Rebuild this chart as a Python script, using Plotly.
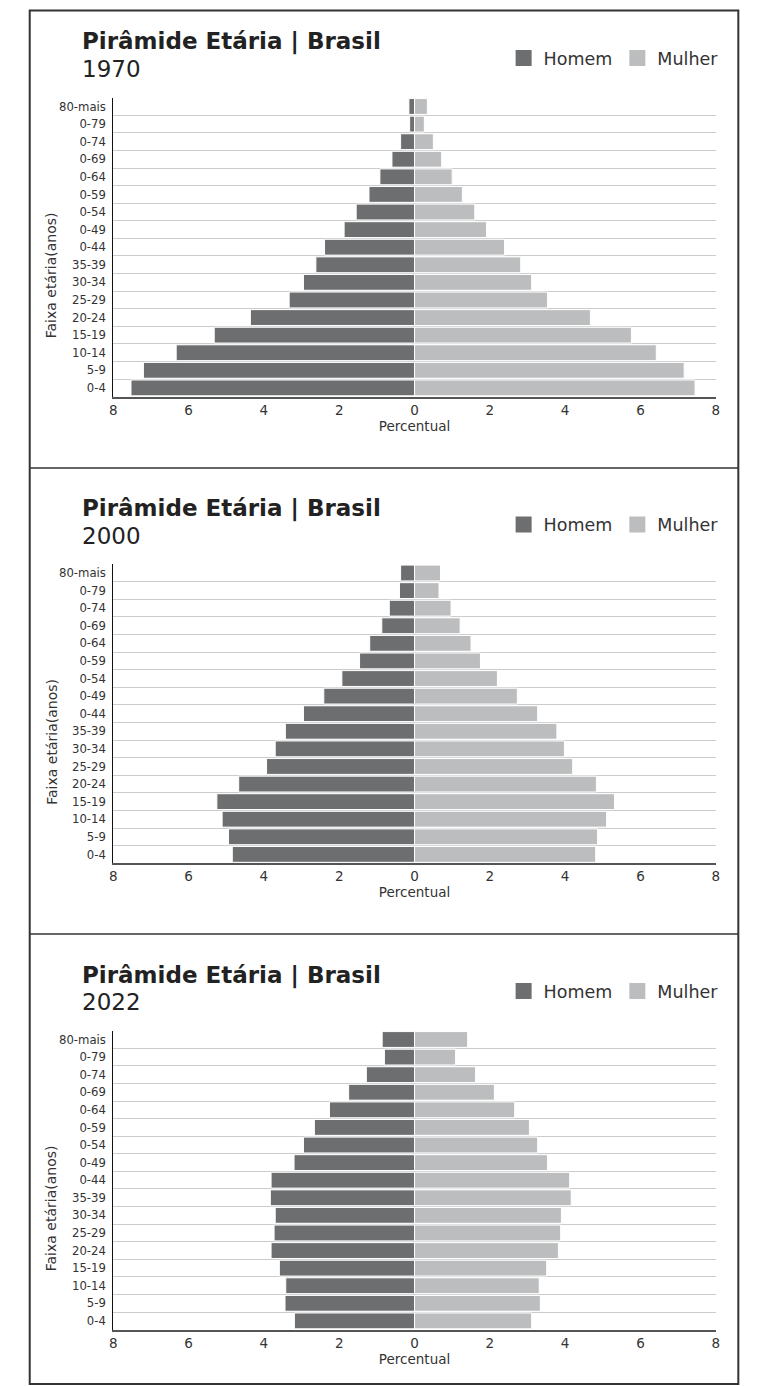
import plotly.graph_objects as go

# faixas etárias de baixo para cima (rótulos como no original)
faixas = ['0-4', '5-9', '10-14', '15-19', '20-24', '25-29', '30-34', '35-39',
          '0-44', '0-49', '0-54', '0-59', '0-64', '0-69', '0-74', '0-79', '80-mais']

anos = ['1970', '2000', '2022']

homem_1970 = [7.53, 7.20, 6.33, 5.32, 4.36, 3.33, 2.95, 2.62, 2.39, 1.87, 1.55, 1.21, 0.92, 0.60, 0.37, 0.13, 0.15]
mulher_1970 = [7.45, 7.16, 6.42, 5.76, 4.67, 3.53, 3.11, 2.82, 2.39, 1.91, 1.60, 1.27, 1.00, 0.72, 0.50, 0.26, 0.34]

homem_2000 = [4.84, 4.94, 5.11, 5.25, 4.67, 3.93, 3.70, 3.43, 2.95, 2.41, 1.93, 1.46, 1.19, 0.87, 0.67, 0.40, 0.37]
mulher_2000 = [4.81, 4.86, 5.10, 5.31, 4.83, 4.20, 3.98, 3.78, 3.27, 2.73, 2.20, 1.75, 1.50, 1.21, 0.97, 0.65, 0.69]

homem_2022 = [3.19, 3.44, 3.42, 3.59, 3.81, 3.73, 3.70, 3.83, 3.81, 3.20, 2.95, 2.66, 2.26, 1.75, 1.28, 0.80, 0.86]
mulher_2022 = [3.11, 3.34, 3.31, 3.51, 3.82, 3.88, 3.90, 4.16, 4.12, 3.53, 3.27, 3.05, 2.66, 2.12, 1.62, 1.09, 1.41]

x_ticks = [-8, -6, -4, -2, 0, 2, 4, 6, 8]

W, H = 764, 1386
COR_HOMEM = '#6d6e70'
COR_MULHER = '#bcbdbe'
FONTE = 'DejaVu Sans'


def px(x):
    # pequena correcao horizontal medida nas rodadas anteriores
    return (x - 3.8) / 0.9887 / W


def py(y):
    return 1 - y / H


dados = [(homem_1970, mulher_1970), (homem_2000, mulher_2000), (homem_2022, mulher_2022)]
passo = 466.5  # distancia vertical entre paineis, em pixels

fig = go.Figure()
shapes = []
annotations = []

for i, (ano, (hom, mul)) in enumerate(zip(anos, dados)):
    n = '' if i == 0 else str(i + 1)
    off = i * passo
    leg = 'legend' + n

    fig.add_trace(go.Bar(y=faixas, x=[-v for v in hom], orientation='h', name='Homem',
                         marker=dict(color=COR_HOMEM, line=dict(color='white', width=1)),
                         xaxis='x' + n, yaxis='y' + n, showlegend=False))
    fig.add_trace(go.Bar(y=faixas, x=mul, orientation='h', name='Mulher',
                         marker=dict(color=COR_MULHER, line=dict(color='white', width=1)),
                         xaxis='x' + n, yaxis='y' + n, showlegend=False))
    # entradas de legenda (quadrados maiores que o simbolo padrao de barra)
    for nome, cor in [('Homem', COR_HOMEM), ('Mulher', COR_MULHER)]:
        fig.add_trace(go.Scatter(x=[None], y=[None], mode='markers', name=nome,
                                 marker=dict(symbol='square', size=20, color=cor),
                                 xaxis='x' + n, yaxis='y' + n, legend=leg, hoverinfo='skip'))

    fig.update_layout(**{
        'xaxis' + n: dict(domain=[px(113), px(715)], anchor='y' + n, range=[-8, 8],
                          tickvals=x_ticks, ticktext=[str(abs(v)) for v in x_ticks],
                          showgrid=False, zeroline=False, showline=True,
                          linecolor='#555', linewidth=2, ticks='',
                          tickfont=dict(size=13.5, color='#333'),
                          title=dict(text='Percentual', font=dict(size=13.5, color='#333'), standoff=3)),
        'yaxis' + n: dict(domain=[py(396.7 + off), py(97.7 + off)], anchor='x' + n,
                          type='category', tickson='boundaries', ticks='',
                          showgrid=True, gridcolor='#cccccc', gridwidth=1,
                          showline=True, linecolor='#111', linewidth=1,
                          tickfont=dict(size=11.7, color='#333'), ticklabelstandoff=4),
        leg: dict(orientation='h', x=px(503), y=py(58 + off), xanchor='left', yanchor='middle',
                  font=dict(size=17.5, color='#333'), itemsizing='trace',
                  bgcolor='rgba(0,0,0,0)', traceorder='normal'),
    })

    annotations.append(dict(text='<b>Pirâmide Etária | Brasil</b>', x=px(80), y=py(42 + off),
                            xref='paper', yref='paper', xanchor='left', yanchor='middle',
                            showarrow=False, font=dict(size=23, color='#222')))
    annotations.append(dict(text=ano, x=px(80), y=py(69 + off), xref='paper', yref='paper',
                            xanchor='left', yanchor='middle', showarrow=False,
                            font=dict(size=23, color='#222')))
    annotations.append(dict(text='Faixa etária(anos)', x=px(51), y=py(275 + off), xref='paper',
                            yref='paper', xanchor='center', yanchor='middle', textangle=-90,
                            showarrow=False, font=dict(size=14, color='#333')))

# moldura e separadores
shapes.append(dict(type='rect', xref='paper', yref='paper', x0=px(29.5), x1=px(737.5),
                   y0=py(1384), y1=py(10.5), line=dict(color='#333', width=2)))
for ys in [468, 934]:
    shapes.append(dict(type='line', xref='paper', yref='paper', x0=px(29.5), x1=px(737.5),
                       y0=py(ys), y1=py(ys), line=dict(color='#333', width=1.5)))

fig.update_layout(width=W, height=H, margin=dict(l=0, r=0, t=0, b=0),
                  paper_bgcolor='white', plot_bgcolor='white',
                  barmode='relative', bargap=0.1,
                  font=dict(family=FONTE, color='#333'),
                  shapes=shapes, annotations=annotations)

# tira a margem padrao do body para a figura ocupar a janela inteira
fig.write_html("out.html", config={'displayModeBar': False},
               post_script="document.body.style.margin = '0';")
